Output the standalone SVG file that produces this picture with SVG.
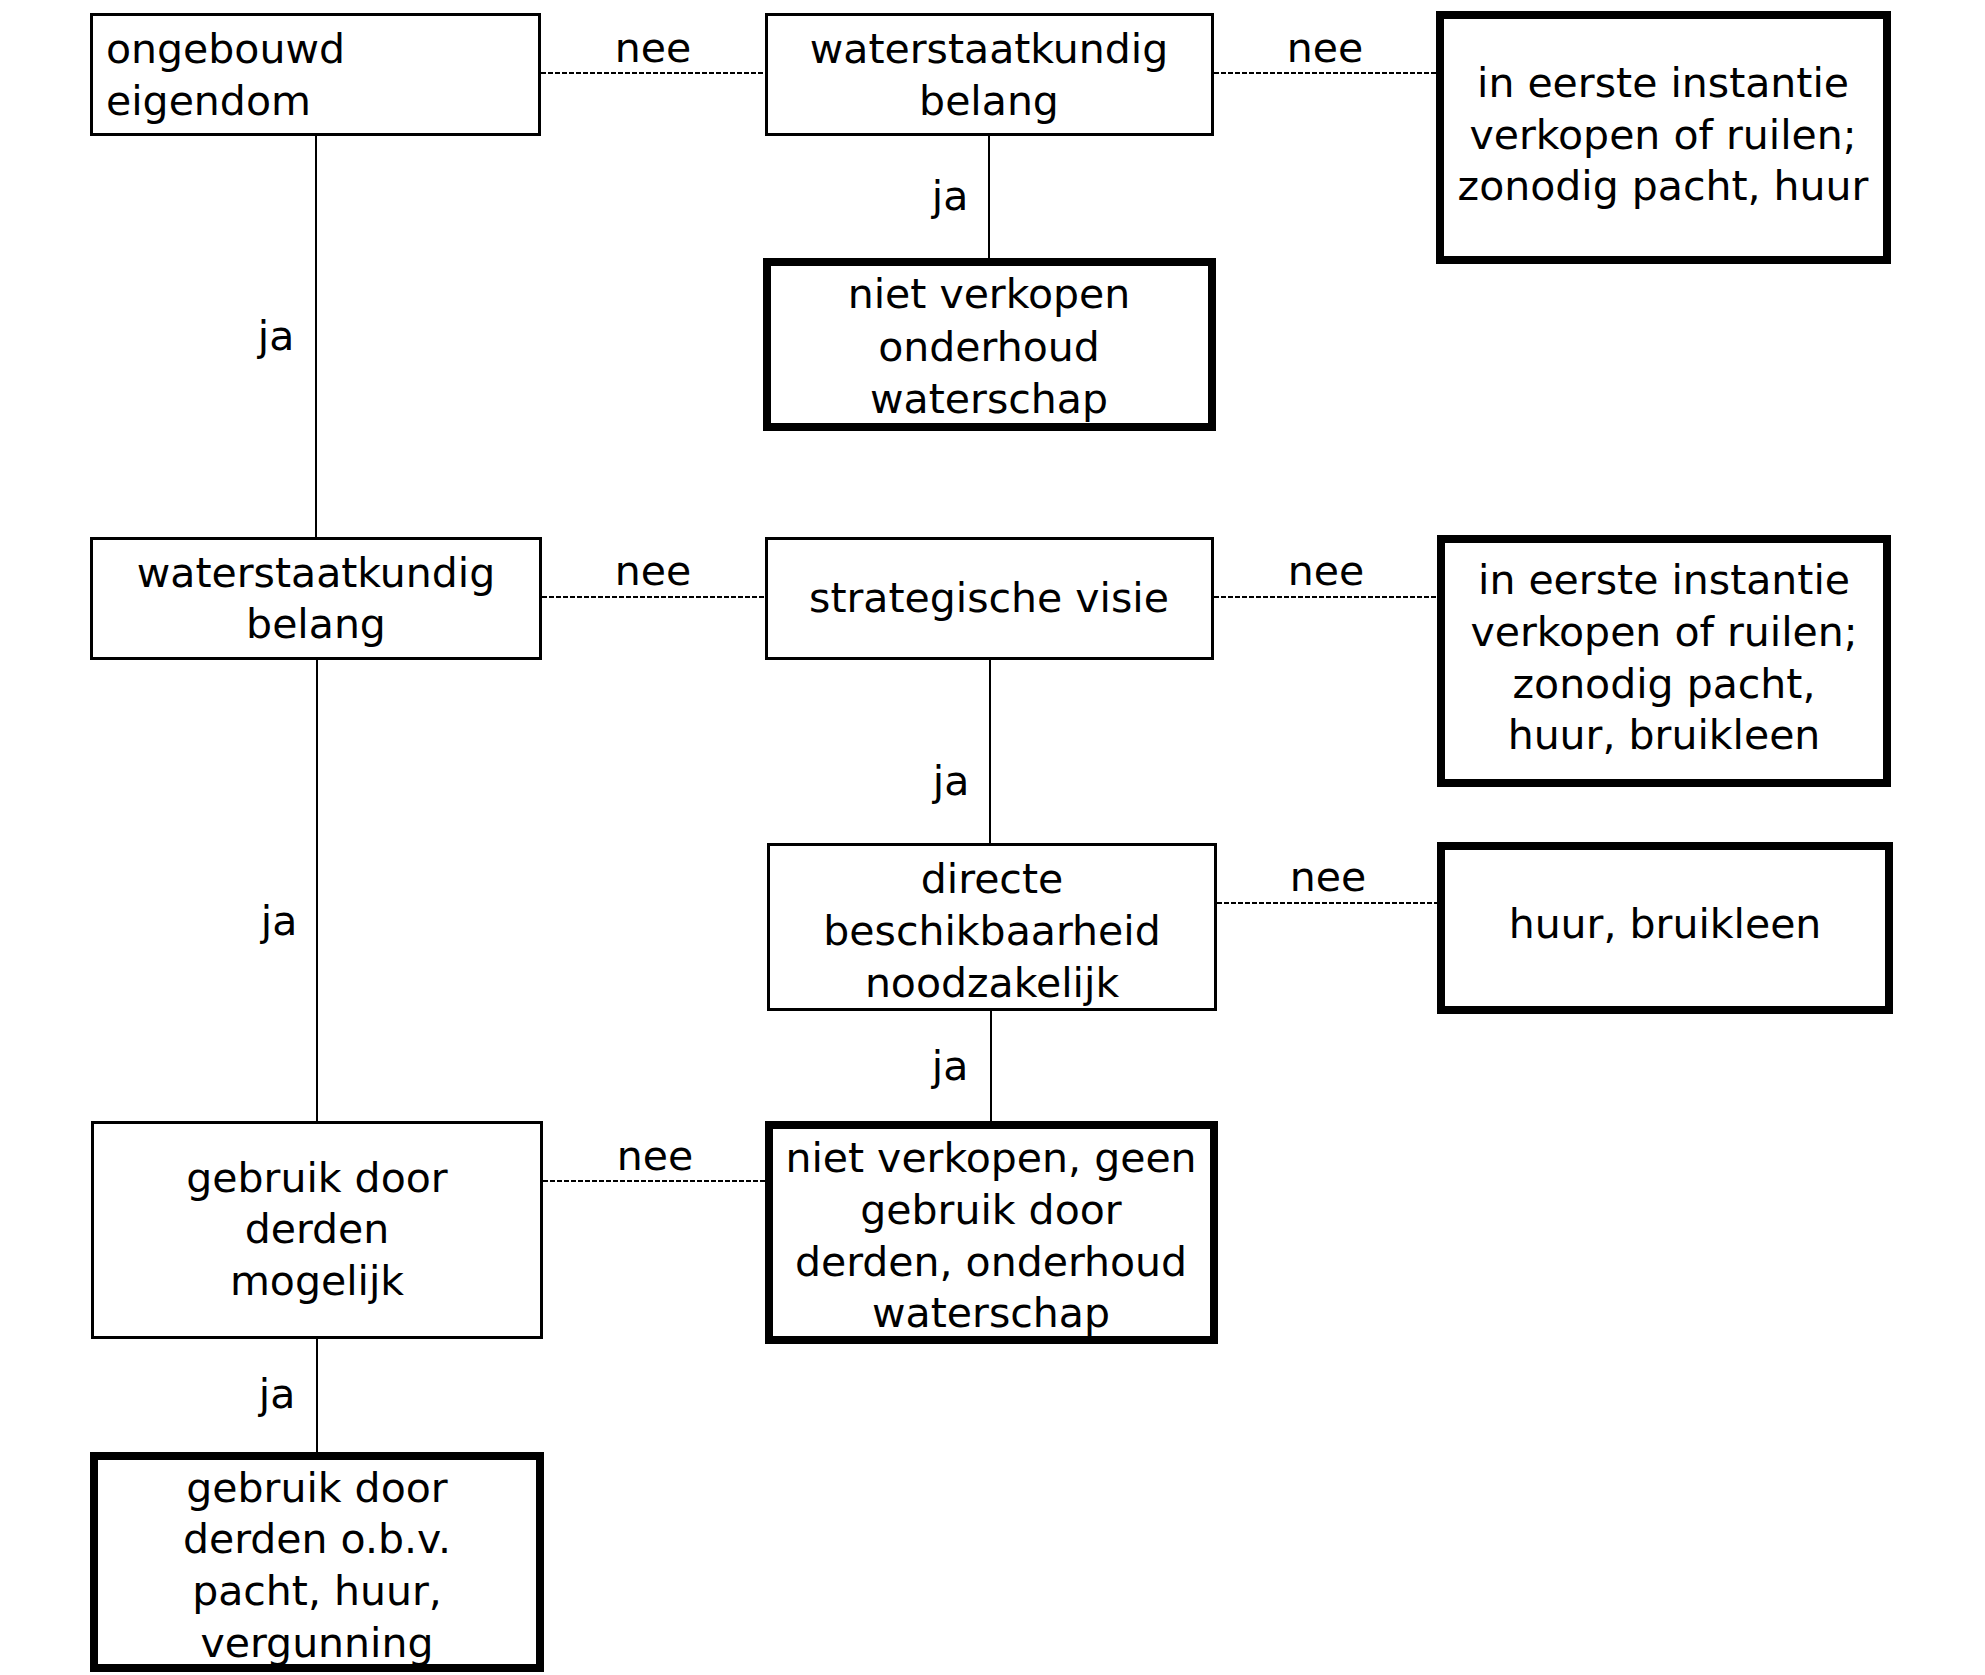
<svg xmlns="http://www.w3.org/2000/svg" width="1985" height="1675" viewBox="0 0 1985 1675">
<style>
.bg{fill:#fff}
.thin{fill:#fff;stroke:#000;stroke-width:3}
.thick{fill:#fff;stroke:#000;stroke-width:8}
.t{font-family:"DejaVu Sans",Verdana,sans-serif;font-size:41px;fill:#000}
.c{text-anchor:middle}
.yes{stroke:#000;stroke-width:2;fill:none}
.no{stroke:#000;stroke-width:2;fill:none;stroke-dasharray:5 2}
</style>
<rect class="bg" x="0" y="0" width="1985" height="1675"/>
<g id="connectors">
<line class="no" x1="541" y1="73" x2="765" y2="73"/>
<line class="no" x1="1214" y1="73" x2="1436" y2="73"/>
<line class="yes" x1="989" y1="136" x2="989" y2="258"/>
<line class="yes" x1="316" y1="136" x2="316" y2="537"/>
<line class="no" x1="542" y1="597" x2="765" y2="597"/>
<line class="no" x1="1214" y1="597" x2="1437" y2="597"/>
<line class="yes" x1="990" y1="660" x2="990" y2="843"/>
<line class="no" x1="1217" y1="903" x2="1437" y2="903"/>
<line class="yes" x1="317" y1="660" x2="317" y2="1121"/>
<line class="yes" x1="991" y1="1011" x2="991" y2="1121"/>
<line class="no" x1="543" y1="1181" x2="765" y2="1181"/>
<line class="yes" x1="317" y1="1339" x2="317" y2="1452"/>
<text class="t c" x="653" y="62">nee</text>
<text class="t c" x="1325" y="62">nee</text>
<text class="t c" x="950" y="210">ja</text>
<text class="t c" x="276" y="350">ja</text>
<text class="t c" x="653" y="585">nee</text>
<text class="t c" x="1326" y="585">nee</text>
<text class="t c" x="951" y="795">ja</text>
<text class="t c" x="279" y="935">ja</text>
<text class="t c" x="1328" y="891">nee</text>
<text class="t c" x="950" y="1080">ja</text>
<text class="t c" x="655" y="1170">nee</text>
<text class="t c" x="277" y="1408">ja</text>
</g>
<g id="n1">
<rect class="thin" x="91.5" y="14.5" width="448" height="120"/>
<text class="t" x="106" y="63">ongebouwd</text>
<text class="t" x="106" y="115">eigendom</text>
</g>
<g id="n2">
<rect class="thin" x="766.5" y="14.5" width="446" height="120"/>
<text class="t c" x="989" y="63">waterstaatkundig</text>
<text class="t c" x="989" y="115">belang</text>
</g>
<g id="n3">
<rect class="thick" x="1440" y="15" width="447" height="245"/>
<text class="t c" x="1663" y="97">in eerste instantie</text>
<text class="t c" x="1663" y="149">verkopen of ruilen;</text>
<text class="t c" x="1663" y="200">zonodig pacht, huur</text>
</g>
<g id="n4">
<rect class="thick" x="767" y="262" width="445" height="165"/>
<text class="t c" x="989" y="308">niet verkopen</text>
<text class="t c" x="989" y="361">onderhoud</text>
<text class="t c" x="989" y="413">waterschap</text>
</g>
<g id="n5">
<rect class="thin" x="91.5" y="538.5" width="449" height="120"/>
<text class="t c" x="316" y="587">waterstaatkundig</text>
<text class="t c" x="316" y="638">belang</text>
</g>
<g id="n6">
<rect class="thin" x="766.5" y="538.5" width="446" height="120"/>
<text class="t c" x="989" y="612">strategische visie</text>
</g>
<g id="n7">
<rect class="thick" x="1441" y="539" width="446" height="244"/>
<text class="t c" x="1664" y="594">in eerste instantie</text>
<text class="t c" x="1664" y="646">verkopen of ruilen;</text>
<text class="t c" x="1664" y="698">zonodig pacht,</text>
<text class="t c" x="1664" y="749">huur, bruikleen</text>
</g>
<g id="n8">
<rect class="thin" x="768.5" y="844.5" width="447" height="165"/>
<text class="t c" x="992" y="893">directe</text>
<text class="t c" x="992" y="945">beschikbaarheid</text>
<text class="t c" x="992" y="997">noodzakelijk</text>
</g>
<g id="n9">
<rect class="thick" x="1441" y="846" width="448" height="164"/>
<text class="t c" x="1665" y="938">huur, bruikleen</text>
</g>
<g id="n10">
<rect class="thin" x="92.5" y="1122.5" width="449" height="215"/>
<text class="t c" x="317" y="1192">gebruik door</text>
<text class="t c" x="317" y="1243">derden</text>
<text class="t c" x="317" y="1295">mogelijk</text>
</g>
<g id="n11">
<rect class="thick" x="769" y="1125" width="445" height="215"/>
<text class="t c" x="991" y="1172">niet verkopen, geen</text>
<text class="t c" x="991" y="1224">gebruik door</text>
<text class="t c" x="991" y="1276">derden, onderhoud</text>
<text class="t c" x="991" y="1327">waterschap</text>
</g>
<g id="n12">
<rect class="thick" x="94" y="1456" width="446" height="212"/>
<text class="t c" x="317" y="1502">gebruik door</text>
<text class="t c" x="317" y="1553">derden o.b.v.</text>
<text class="t c" x="317" y="1605">pacht, huur,</text>
<text class="t c" x="317" y="1657">vergunning</text>
</g>
</svg>
